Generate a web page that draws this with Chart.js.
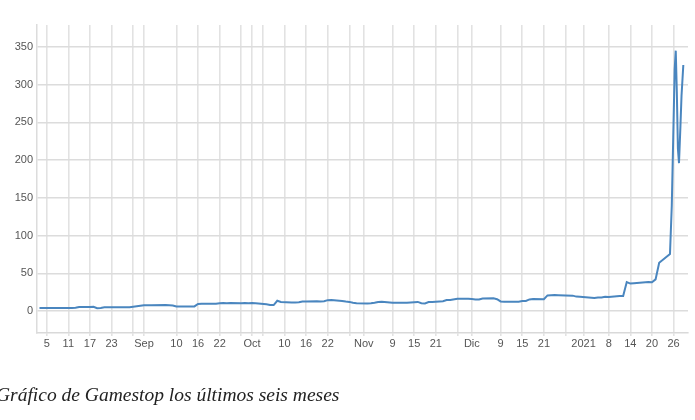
<!DOCTYPE html>
<html>
<head>
<meta charset="utf-8">
<script src="https://cdn.jsdelivr.net/npm/chart.js@4"></script>
<style>
  html, body { margin: 0; padding: 0; background: #fff; }
  body { width: 695px; height: 420px; position: relative; overflow: hidden; }
  #c { position: absolute; left: 0; top: 0; }
  #cap { position: absolute; left: -4px; top: 385px; font-family: "Liberation Serif", "DejaVu Serif", serif;
         font-style: italic; font-size: 19.5px; line-height: 19.5px; color: #222; white-space: nowrap; }
</style>
</head>
<body>
<canvas id="c" width="695" height="420"></canvas>
<div id="cap">Gráfico de Gamestop los últimos seis meses</div>
<script>
// x = calendar day counted from 1 Aug 2020 (0)
const dayIndex = [
  2,3,4,5,6, 9,10,11,12,13, 16,17,18,19,20, 23,24,25,26,27, 30,
  31,32,33, 37,38,39,40,41, 44,45,46,47,48, 51,52,53,54,55, 58,59,60,
  61,62, 65,66,67,68,69, 72,73,74,75,76, 79,80,81,82,83, 86,87,88,89,90,
  93,94,95,96,97, 100,101,102,103,104, 107,108,109,110,111, 114,115,116,118,
  121,122,123,124,125, 128,129,130,131,132, 135,136,137,138,139, 142,143,144,145,146,
  150,151,152, 156,157,158,159,160, 163,164,165,166,167, 171,172,173,174,
  177,177.5,177.9,178.3,178.6,178.9,179.2,179.5,179.9,180.2,180.7
];
const closeValues = [
  4.0,4.1,4.2,4.1,4.0, 4.1,4.2,4.2,4.4,5.3, 5.3,5.8,3.9,4.1,5.0, 5.0,5.0,5.1,5.1,5.2, 7.0,
  7.7,7.8,7.9, 8.0,7.9,7.5,6.0,6.0, 6.1,6.2,9.5,9.7,9.8, 9.9,10.5,10.6,10.4,10.7, 10.5,10.6,10.4,
  10.6,10.5, 9.0,8.2,8.0,13.7,12.0, 11.5,11.4,11.6,12.6,12.8, 12.9,12.8,13.0,14.5,14.7, 13.5,12.6,12.2,11.0,10.3,
  10.0,10.5,11.2,12.2,12.3, 11.2,11.0,11.1,11.2,11.0, 12.2,10.5,10.2,12.0,12.1, 13.0,14.6,14.8,16.3,
  16.4,16.0,15.5,15.4,16.8, 16.9,15.8,12.8,12.4,12.5, 12.3,13.3,13.5,15.5,16.0, 15.8,20.8,21.0,21.2,21.0,
  20.5,19.2,18.9, 17.4,18.0,18.1,18.9,18.8, 19.9,19.9,38.5,36.5,37.0, 38.5,38.3,42.0,64.0,
  75.5,140,230,320,345,290,215,196,245,285,326
];
const xTickDays = [4,10,16,22,28,31,40,46,52,58,61,64,70,76,82,88,92,100,106,112,118,122,130,136,142,148,153,160,166,172,178];
const xTickLabels = ['5','11','17','23','','Sep','10','16','22','','Oct','','10','16','22','','Nov','9','15','21','','Dic','9','15','21','','2021','8','14','20','26'];
const yTickValues = [0,50,100,150,200,250,300,350];

const points = dayIndex.map((d, i) => ({ x: d, y: closeValues[i] }));
const labelFor = {};
xTickDays.forEach((d, i) => { labelFor[d] = xTickLabels[i]; });

new Chart(document.getElementById('c'), {
  type: 'line',
  data: {
    datasets: [{
      data: points,
      borderColor: '#4a86bf',
      borderWidth: 2,
      pointRadius: 0,
      tension: 0,
      fill: false
    }]
  },
  options: {
    responsive: false,
    animation: false,
    events: [],
    layout: { padding: { top: 25, right: 7, left: 0, bottom: 0 } },
    plugins: { legend: { display: false }, tooltip: { enabled: false }, title: { display: false } },
    scales: {
      x: {
        type: 'linear',
        min: 1.31,
        max: 182,
        afterBuildTicks: s => { s.ticks = xTickDays.map(v => ({ value: v })); },
        afterFit: s => { s.height = 87; },
        grid: { color: '#e2e2e2', lineWidth: 1.6, drawTicks: true, tickLength: 3 },
        border: { display: true, color: '#d9d9d9', width: 1.5 },
        ticks: {
          autoSkip: false, maxRotation: 0, minRotation: 0, padding: 1,
          color: '#555', font: { family: 'Liberation Sans, Arial, sans-serif', size: 11 },
          callback: v => labelFor[v] ?? ''
        }
      },
      y: {
        min: -29,
        max: 379,
        afterBuildTicks: s => { s.ticks = yTickValues.map(v => ({ value: v })); },
        afterFit: s => { s.width = 37; },
        grid: { color: '#dcdcdc', lineWidth: 1.5, drawTicks: false },
        border: { display: true, color: '#dcdcdc', width: 1.5 },
        ticks: {
          padding: 4,
          color: '#555', font: { family: 'Liberation Sans, Arial, sans-serif', size: 11 },
          callback: v => String(v)
        }
      }
    }
  }
});
</script>
</body>
</html>
